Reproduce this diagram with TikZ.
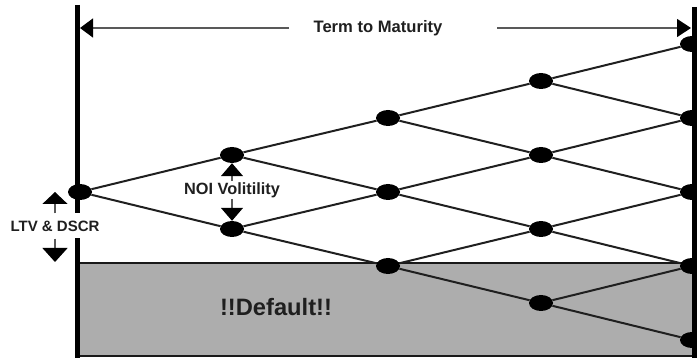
\documentclass[tikz,border=0pt]{standalone}
\usepackage{fontspec}
\setmainfont{Liberation Sans}
\usetikzlibrary{shapes.geometric,arrows.meta}
\begin{document}
\begin{tikzpicture}[x=1pt,y=-1pt,
  lat/.style={draw=black!88, line width=2pt},
  dot/.style={ellipse, fill=black, minimum width=24pt, minimum height=16pt, inner sep=0pt},
  lbl/.style={text=black!88, inner sep=1pt},
  bar/.style={line width=5pt, draw=black},
  stem/.style={draw=black!65, line width=1.3pt},
]
\useasboundingbox (0,0) rectangle (697,358);
% default zone
\fill[black!32] (77.5,263) rectangle (694,356);
\draw[line width=2pt, black!90] (77.5,263) -- (694,263);
\draw[line width=2.5pt, black!90] (77.5,356) -- (694,356);
% vertical bars
\coordinate (lt) at (77.5,5);
\coordinate (lb) at (77.5,358);
\coordinate (rt) at (694,7);
\coordinate (rb) at (694,358);
\draw[bar] (lt) -- (lb);
\draw[bar] (rt) -- (rb);
% lattice nodes
\foreach \i/\x in {0/80,1/232,2/388,3/541,4/692}{
  \foreach \j in {0,...,\i}{
    \node[dot] (n\i\j) at (\x,{192+37*(2*\j-\i)}) {};
  }
}
% lattice edges
\foreach \i in {0,...,3}{
  \foreach \j in {0,...,\i}{
    \pgfmathtruncatemacro\ni{\i+1}
    \pgfmathtruncatemacro\nj{\j+1}
    \draw[lat] (n\i\j) -- (n\ni\j);
    \draw[lat] (n\i\j) -- (n\ni\nj);
  }
}
% term to maturity
\node[lbl, font=\bfseries\fontsize{16.6}{18}\selectfont] (term) at (378,28) {Term to Maturity};
\coordinate (tl) at (289,28);
\coordinate (tle) at (80,28);
\coordinate (tr) at (497,28);
\coordinate (tre) at (691,28);
\draw[stem, -{Triangle[width=19pt,length=13pt,color=black]}] (tl) -- (tle);
\draw[stem, -{Triangle[width=18pt,length=14pt,color=black]}] (tr) -- (tre);
% NOI volatility
\node[lbl, font=\bfseries\fontsize{16.3}{18}\selectfont] (noi) at (232,190) {NOI Volitility};
\draw[stem, -{Triangle[width=22pt,length=13pt,color=black]}] (noi.north) -- (n10.south);
\draw[stem, -{Triangle[width=22pt,length=13pt,color=black]}] (noi.south) -- (n11.north);
% LTV & DSCR
\node[lbl, font=\bfseries\fontsize{15}{17}\selectfont, fill=white, minimum height=25pt, inner sep=0pt] (ltv) at (55,226) {LTV \& DSCR};
\coordinate (ltvup) at (55,192);
\coordinate (ltvdn) at (55,262);
\draw[stem, -{Triangle[width=25pt,length=12pt,color=black]}] (ltv.north) -- (ltvup);
\draw[stem, -{Triangle[width=25pt,length=14pt,color=black]}] (ltv.south) -- (ltvdn);
% default label
\node[lbl, font=\bfseries\fontsize{23.7}{26}\selectfont] (def) at (276,307) {!!Default!!};
\end{tikzpicture}
\end{document}
